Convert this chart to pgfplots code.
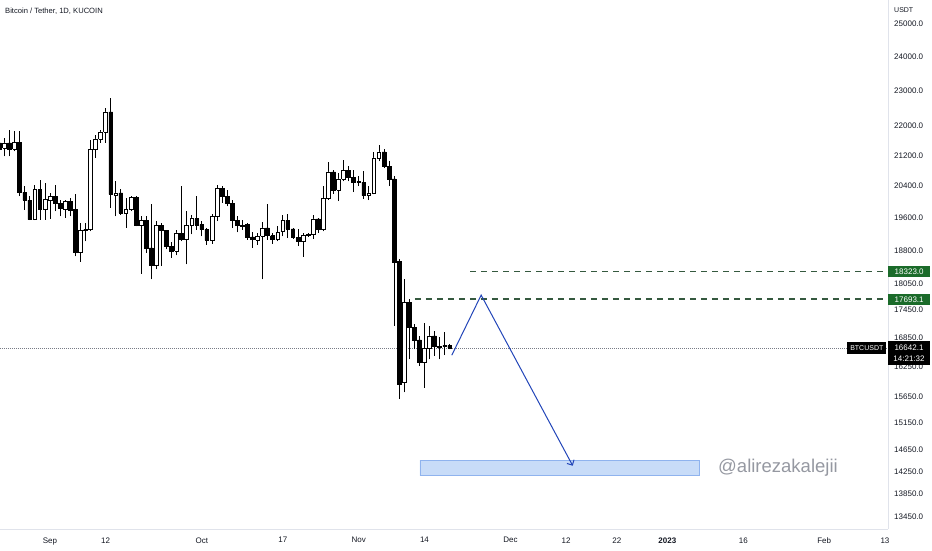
\documentclass[border=0pt]{standalone}
\usepackage{fontspec}
\setmainfont{Liberation Sans}
\usepackage{pgfplots}
\usepackage{pgfplotstable}
\pgfplotsset{compat=1.18}
\usetikzlibrary{arrows.meta}
\definecolor{tvtext}{HTML}{131722}
\definecolor{tvsep}{HTML}{E0E3EB}
\definecolor{tvgreen}{HTML}{1B6B2A}
\definecolor{tvdash}{HTML}{35593F}
\definecolor{tvblue}{HTML}{2245B8}
\definecolor{tvfill}{HTML}{C8DCF8}
\definecolor{tvedge}{HTML}{8FB3EE}
\definecolor{tvgray}{HTML}{9598A1}
\definecolor{tvdot}{HTML}{787B86}

% d = days since 1 Sep 2022; open high low close; u = 1 for a rising candle
\pgfplotstableread{
d o h l c u
-10 21532 21848 20909 21370 0
-9 21397 21668 21173 21532 1
-8 21532 21894 21173 21370 0
-7 21370 21848 21306 21548 1
-6 21548 21848 20137 20238 0
-5 20238 20391 19803 20036 0
-4 20036 20137 19539 19556 0
-3 19556 20435 19539 20306 1
-2 20306 20563 19556 19803 0
-1 19803 20478 19556 20053 1
0 20036 20223 19573 20137 1
1 20137 20435 19761 19953 0
2 19953 20053 19637 19835 0
3 19820 20053 19598 20011 1
4 20011 20096 19637 19786 0
5 19803 20180 18676 18779 0
6 18779 19475 18545 19288 1
7 19312 19475 19031 19290 0
8 19312 21621 19271 21351 1
9 21351 21758 21131 21640 1
10 21640 21894 21532 21831 1
11 21831 22499 21532 22386 1
12 22386 22782 19845 20180 0
13 20172 20519 19637 20223 1
14 20223 20325 19679 19721 0
15 19704 20096 19353 19803 1
16 19803 20154 19761 20111 1
17 20111 20137 19393 19410 0
18 19410 19655 18268 19532 1
19 19532 19637 18756 18874 0
20 18874 19946 18138 18459 0
21 18459 19515 18367 19410 1
22 19410 19475 18443 19295 0
23 19295 19312 18834 18912 0
24 18912 19007 18638 18803 0
25 18803 19312 18692 19233 1
26 19216 20391 19031 19071 0
27 19071 19761 18483 19410 1
28 19410 19679 19192 19598 1
29 19580 20154 19312 19427 0
30 19434 19515 19151 19312 0
31 19312 19353 18945 19055 0
32 19055 19704 18976 19637 1
33 19637 20435 19515 20332 1
34 20332 20391 19971 20137 0
35 20137 20306 19886 19953 0
36 19953 20053 19353 19539 0
37 19539 19637 19247 19410 0
38 19410 19539 19312 19390 0
39 19434 19475 19071 19136 0
40 19136 19247 18874 19071 0
41 19055 19233 18952 19151 1
42 19151 19490 18138 19353 1
43 19353 19953 19071 19168 0
44 19168 19233 18976 19071 0
45 19071 19410 19031 19247 1
46 19271 19679 19151 19539 1
47 19539 19704 19112 19329 0
48 19329 19353 19088 19127 0
49 19127 19329 18912 19031 0
50 19031 19233 18662 19168 1
51 19200 19233 19136 19180 0
52 19208 19679 19088 19573 1
53 19573 19598 19233 19329 0
54 19329 20409 19271 20078 1
55 20078 21014 20036 20762 1
56 20762 20822 20197 20289 0
57 20289 20736 20011 20580 1
58 20580 21085 20519 20804 1
59 20804 20909 20519 20632 0
60 20622 20822 20238 20494 0
61 20510 20648 20391 20490 0
62 20494 20796 20071 20154 0
63 20154 20391 20036 20223 1
64 20223 21280 20180 21131 1
65 21131 21486 21041 21290 1
66 21290 21370 20867 20909 0
67 20909 21041 20391 20580 0
68 20580 20648 17106 18536 0
69 18559 18599 15602 15899 0
70 15933 18138 15734 17615 1
71 17615 17688 16405 17071 0
72 17071 17142 16612 16808 0
73 16808 16893 16268 16338 0
74 16338 17179 15833 16627 1
75 16627 17106 16405 16893 1
76 16893 16999 16474 16669 0
77 16680 16869 16405 16660 0
78 16695 16978 16488 16675 0
79 16696 16717 16612 16642.1 0
}\candles
\pgfplotstablegetrowsof{\candles}
\pgfmathtruncatemacro\lastrow{\pgfplotsretval-1}

\begin{document}
\begin{tikzpicture}
\useasboundingbox (0,0) rectangle (932pt,550pt);
\begin{axis}[
  at={(0pt,21pt)}, anchor=south west,
  scale only axis, width=888pt, height=529pt,
  xmin=-9.88, xmax=165.6,
  ymode=log, ymin=13254, ymax=25774,
  axis x line*=bottom, axis y line*=right,
  axis line style={draw=tvsep, line width=0.8pt},
  major tick length=0pt, minor tick length=0pt,
  yminorticks=false, xminorticks=false,
  xtick={0,11,30,46,61,74,91,102,112,122,137,153,165},
  xticklabels={Sep,12,Oct,17,Nov,14,Dec,12,22,\textbf{2023},16,Feb,13},
  ytick={25000,24000,23000,22000,21200,20400,19600,18800,18050,17450,16850,16250,15650,15150,14650,14250,13850,13450},
  yticklabels={25000.0,24000.0,23000.0,22000.0,21200.0,20400.0,19600.0,18800.0,18050.0,17450.0,16850.0,16250.0,15650.0,15150.0,14650.0,14250.0,13850.0,13450.0},
  ticklabel style={font=\fontsize{8}{9}\selectfont, text=tvtext},
  yticklabel style={anchor=west, xshift=2.7pt},
  xticklabel style={anchor=north, yshift=-5pt},
  clip=true,
]
% last price line
\addplot[tvdot, line width=0.6pt, dash pattern=on 0.8pt off 1.2pt, forget plot] coordinates {(-9.88,16642.1) (165.6,16642.1)};
% levels
\addplot[tvdash, line width=1.6pt, dash pattern=on 6pt off 5pt, forget plot] coordinates {(83.0,18323) (165.6,18323)};
\addplot[tvdash, line width=1.6pt, dash pattern=on 6pt off 5pt, forget plot] coordinates {(72.1,17693.1) (165.6,17693.1)};
% target zone
\addplot[fill=tvfill, draw=tvedge, line width=0.7pt, forget plot] coordinates {(73.1,14171) (128.3,14171) (128.3,14452) (73.1,14452) (73.1,14171)};
% candles: wick, then body
\pgfplotsforeachungrouped \i in {0,...,\lastrow}{%
  \pgfplotstablegetelem{\i}{d}\of\candles\let\cd\pgfplotsretval
  \pgfplotstablegetelem{\i}{o}\of\candles\let\co\pgfplotsretval
  \pgfplotstablegetelem{\i}{h}\of\candles\let\ch\pgfplotsretval
  \pgfplotstablegetelem{\i}{l}\of\candles\let\cl\pgfplotsretval
  \pgfplotstablegetelem{\i}{c}\of\candles\let\cc\pgfplotsretval
  \pgfplotstablegetelem{\i}{u}\of\candles\let\cu\pgfplotsretval
  \pgfmathsetmacro\xa{\cd-0.37}%
  \pgfmathsetmacro\xb{\cd+0.37}%
  \ifnum\cu=1 \def\bodyfill{white}\else\def\bodyfill{black}\fi
  \edef\tmp{%
    \noexpand\addplot[black, line width=0.75pt, forget plot] coordinates {(\cd,\cl) (\cd,\ch)};
    \noexpand\addplot[draw=black, fill=\bodyfill, line width=0.6pt, forget plot] coordinates {(\xa,\co) (\xb,\co) (\xb,\cc) (\xa,\cc) (\xa,\co)};%
  }%
  \tmp
}
% projected path
\addplot[tvblue, line width=1pt, -{Straight Barb[length=4pt,width=8pt]}, forget plot] coordinates {(79.4,16488) (85.2,17784) (103.3,14350)};
\coordinate (pl) at (axis cs:165.6,16642.1);
\coordinate (g1) at (axis cs:165.6,18323);
\coordinate (g2) at (axis cs:165.6,17693.1);
\end{axis}
% title and unit
\node[anchor=west, inner sep=0pt, text=tvtext, font=\fontsize{7.6}{9}\selectfont] at (5pt,539pt) {Bitcoin / Tether, 1D, KUCOIN};
\node[anchor=west, inner sep=0pt, text=tvtext, font=\fontsize{7}{8}\selectfont] at (894pt,540pt) {USDT};
% watermark
\node[anchor=west, inner sep=0pt, text=tvgray, font=\fontsize{18.5}{20}\selectfont] at (718pt,82pt) {@alirezakalejii};
% price labels
\node[fill=black, text=white, inner sep=0pt, minimum width=39pt, minimum height=11.5pt, anchor=east, font=\fontsize{7}{8}\selectfont] at ([xshift=-1.5pt]pl) {BTCUSDT};
\fill[black] ([yshift=6.6pt]pl) rectangle ([xshift=42pt,yshift=-16.7pt]pl);
\node[text=white, inner sep=0pt, font=\fontsize{8}{9}\selectfont] at ([xshift=21pt]pl) {16642.1};
\node[text=white, inner sep=0pt, font=\fontsize{8}{9}\selectfont] at ([xshift=21pt,yshift=-10.7pt]pl) {14:21:32};
\node[fill=tvgreen, text=white, inner sep=0pt, minimum width=42pt, minimum height=11pt, anchor=west, font=\fontsize{8}{9}\selectfont] at (g1) {18323.0};
\node[fill=tvgreen, text=white, inner sep=0pt, minimum width=42pt, minimum height=11pt, anchor=west, font=\fontsize{8}{9}\selectfont] at (g2) {17693.1};
\end{tikzpicture}
\end{document}
